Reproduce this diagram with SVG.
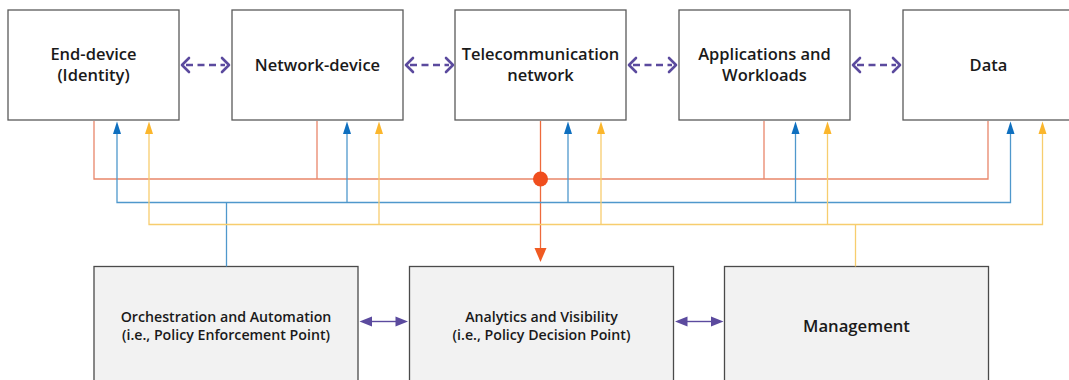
<svg xmlns="http://www.w3.org/2000/svg" width="1069" height="380" viewBox="0 0 1069 380">
<defs>
<style>
.box{fill:#ffffff;stroke:#5a5a5a;stroke-width:1.3}
.bbox{fill:#f2f2f2;stroke:#4a4a4a;stroke-width:1.3}
.t{font-family:"Open Sans","Liberation Sans",sans-serif;font-weight:600;font-size:16.5px;fill:#1a1a1a;text-anchor:middle}
.tb{font-family:"Open Sans","Liberation Sans",sans-serif;font-weight:600;font-size:14.2px;fill:#1a1a1a;text-anchor:middle}
.tm{font-family:"Open Sans","Liberation Sans",sans-serif;font-weight:600;font-size:16.7px;fill:#1a1a1a;text-anchor:middle}
.red{stroke:#e9866a;stroke-width:1.3;fill:none}
.blue{stroke:#4f98cc;stroke-width:1.3;fill:none}
.yel{stroke:#f7cd6e;stroke-width:1.3;fill:none}
.dash{stroke:#5b4a9e;stroke-width:2.6;fill:none;stroke-dasharray:7 4.5}
.chev{stroke:#5b4a9e;stroke-width:2.6;fill:none;stroke-linecap:round;stroke-linejoin:round}
.sol{stroke:#5b4a9e;stroke-width:1.4;fill:none}
</style>
</defs>

<g id="node-end-device">
<rect class="box" x="8" y="10" width="171" height="110"/>
<text class="t" x="93.5" y="59.5">End-device</text>
<text class="t" x="93.5" y="80.5">(Identity)</text>
</g>
<g id="node-network-device">
<rect class="box" x="232" y="10" width="171" height="110"/>
<text class="t" x="317.5" y="70.5">Network-device</text>
</g>
<g id="node-telecom">
<rect class="box" x="455" y="10" width="171" height="110"/>
<text class="t" x="540.5" y="59.5">Telecommunication</text>
<text class="t" x="540.5" y="80.5">network</text>
</g>
<g id="node-apps">
<rect class="box" x="679" y="10" width="171" height="110"/>
<text class="t" x="764.5" y="59.5">Applications and</text>
<text class="t" x="764.5" y="80.5">Workloads</text>
</g>
<g id="node-data">
<rect class="box" x="903" y="10" width="180" height="110"/>
<text class="t" x="988.5" y="70.5">Data</text>
</g>

<g id="node-orchestration">
<rect class="bbox" x="94" y="266.5" width="264" height="130"/>
<text class="tb" x="226" y="321.5">Orchestration and Automation</text>
<text class="tb" x="226" y="340">(i.e., Policy Enforcement Point)</text>
</g>
<g id="node-analytics">
<rect class="bbox" x="409.5" y="266.5" width="264" height="130"/>
<text class="tb" x="541.5" y="321.5">Analytics and Visibility</text>
<text class="tb" x="541.5" y="340">(i.e., Policy Decision Point)</text>
</g>
<g id="node-management">
<rect class="bbox" x="724.5" y="266.5" width="264" height="130"/>
<text class="tm" x="856.5" y="331.5">Management</text>
</g>

<g id="connectors">
<g>
<line class="dash" x1="186" y1="65" x2="225" y2="65"/>
<polyline class="chev" points="189,58 182,65 189,72"/>
<polyline class="chev" points="222,58 229,65 222,72"/>
<line class="dash" x1="410" y1="65" x2="449" y2="65"/>
<polyline class="chev" points="413,58 406,65 413,72"/>
<polyline class="chev" points="446,58 453,65 446,72"/>
<line class="dash" x1="633" y1="65" x2="672" y2="65"/>
<polyline class="chev" points="636,58 629,65 636,72"/>
<polyline class="chev" points="669,58 676,65 669,72"/>
<line class="dash" x1="857" y1="65" x2="896" y2="65"/>
<polyline class="chev" points="860,58 853,65 860,72"/>
<polyline class="chev" points="893,58 900,65 893,72"/>
</g>

<polyline class="red" points="94,121 94,179 988,179 988,121"/>
<line class="red" x1="317" y1="121" x2="317" y2="179"/>
<line class="red" x1="764" y1="121" x2="764" y2="179"/>
<line class="red" x1="540.5" y1="121" x2="540.5" y2="250" style="stroke:#ee6a3c"/>
<circle cx="540.5" cy="179" r="7.5" fill="#f04e1e"/>
<path d="M534.5 248 L546.5 248 L540.5 262 Z" fill="#f05a22"/>

<polyline class="blue" points="117,133 117,202.5 1010.5,202.5 1010.5,133"/>
<line class="blue" x1="347" y1="133" x2="347" y2="202.5"/>
<line class="blue" x1="568" y1="133" x2="568" y2="202.5"/>
<line class="blue" x1="795.5" y1="133" x2="795.5" y2="202.5"/>
<line class="blue" x1="226.5" y1="202.5" x2="226.5" y2="266.5"/>
<g fill="#0e6fbf">
<path d="M117 121.5 L121 134 L113 134 Z"/>
<path d="M347 121.5 L351 134 L343 134 Z"/>
<path d="M568 121.5 L572 134 L564 134 Z"/>
<path d="M795.5 121.5 L799.5 134 L791.5 134 Z"/>
<path d="M1010.5 121.5 L1014.5 134 L1006.5 134 Z"/>
</g>

<polyline class="yel" points="149,133 149,224.5 1042.5,224.5 1042.5,133"/>
<line class="yel" x1="379" y1="133" x2="379" y2="224.5"/>
<line class="yel" x1="601" y1="133" x2="601" y2="224.5"/>
<line class="yel" x1="827.5" y1="133" x2="827.5" y2="224.5"/>
<line class="yel" x1="855.5" y1="224.5" x2="855.5" y2="266.5"/>
<g fill="#fbb62c">
<path d="M149 121.5 L153 134 L145 134 Z"/>
<path d="M379 121.5 L383 134 L375 134 Z"/>
<path d="M601 121.5 L605 134 L597 134 Z"/>
<path d="M827.5 121.5 L831.5 134 L823.5 134 Z"/>
<path d="M1042.5 121.5 L1046.5 134 L1038.5 134 Z"/>
</g>

<line class="sol" x1="368" y1="321.5" x2="398" y2="321.5"/>
<path d="M359.5 321.5 L372 316.5 L372 326.5 Z" fill="#5b4a9e"/>
<path d="M408 321.5 L395.5 316.5 L395.5 326.5 Z" fill="#5b4a9e"/>
<line class="sol" x1="684" y1="321.5" x2="714" y2="321.5"/>
<path d="M675 321.5 L687.5 316.5 L687.5 326.5 Z" fill="#5b4a9e"/>
<path d="M723.5 321.5 L711 316.5 L711 326.5 Z" fill="#5b4a9e"/>
</g>
</svg>
